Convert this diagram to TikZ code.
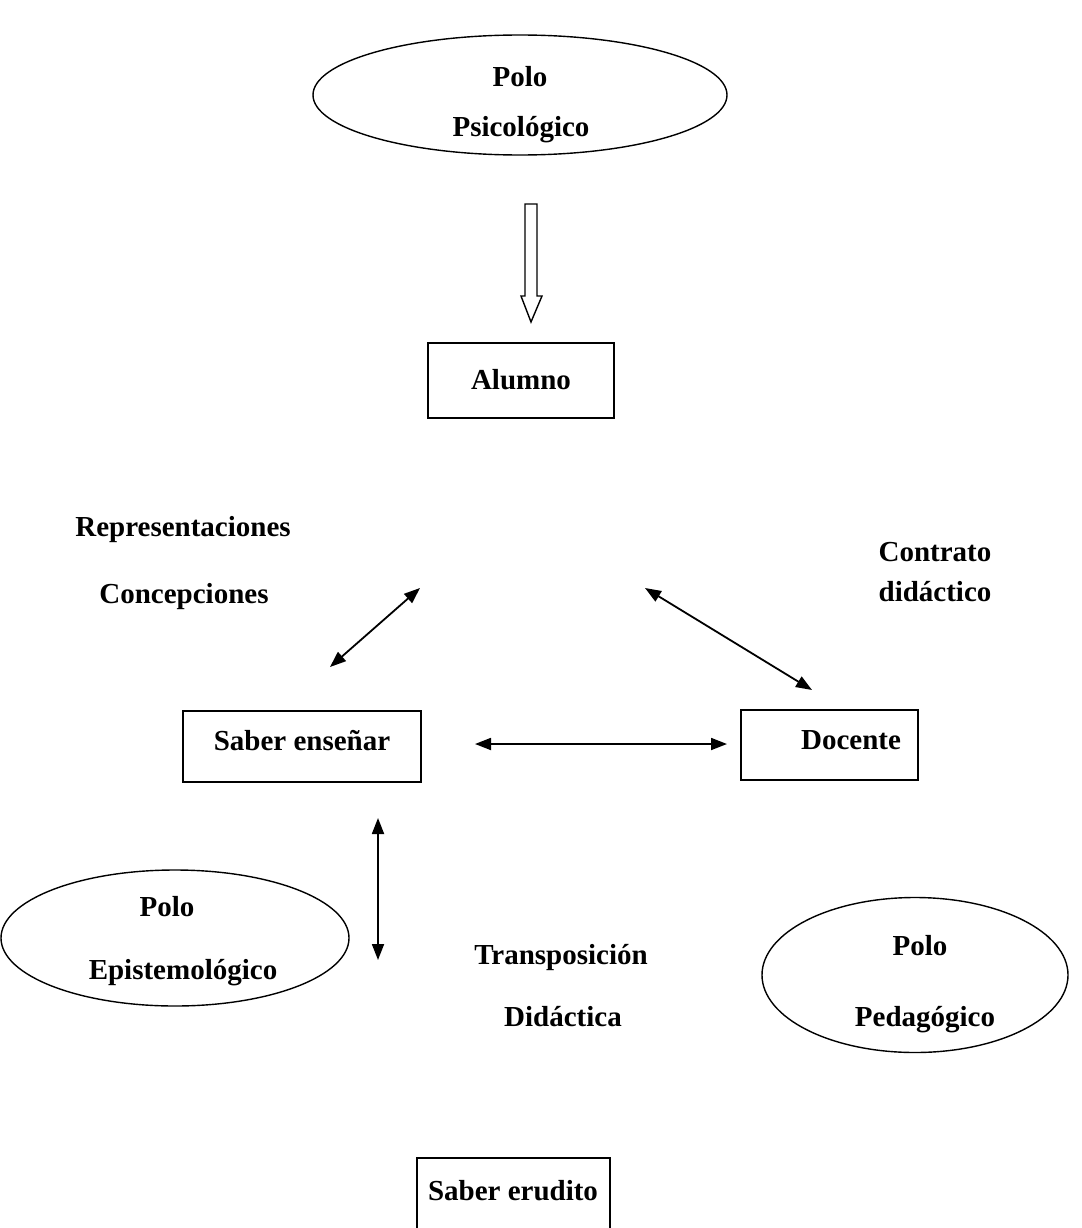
\documentclass[tikz,border=0pt]{standalone}
\usepackage{fontspec}
\setmainfont{Liberation Serif}
\usetikzlibrary{arrows.meta,shapes.geometric}
\begin{document}
\begin{tikzpicture}[x=1pt,y=-1pt,
  lbl/.style={font=\fontsize{29}{34}\selectfont\bfseries, inner sep=0pt},
  boxn/.style={draw, line width=1.6pt, rectangle, inner sep=0pt},
  ell/.style={draw, line width=1.4pt, ellipse, inner sep=0pt},
  dbl/.style={line width=1.8pt, {Triangle[length=16pt,width=12pt]}-{Triangle[length=16pt,width=12pt]}}
]
\useasboundingbox (0,0) rectangle (1081,1228);
\begin{scope}
\clip (0,0) rectangle (1081,1228);
% top ellipse
\node[ell, minimum width=414pt, minimum height=120pt] (epsi) at (520,95) {};
\node[lbl] (tpolo1) at (520,77) {Polo};
\node[lbl] (tpsi) at (521,130) {Psicológico};
% hollow arrow
\draw[line width=1.4pt, line join=miter] (525,204) -- (537,204) -- (537,296) -- (542,296) -- (531,322) -- (521,296) -- (525,296) -- cycle;
% Alumno
\node[boxn, minimum width=186pt, minimum height=75pt] (alumno) at (521,380.5) {};
\node[lbl] (talumno) at (521,380) {Alumno};
% labels
\node[lbl] (trep) at (183,530) {Representaciones};
\node[lbl] (tcon) at (184,597) {Concepciones};
\node[lbl] (tcontrato) at (935,552) {Contrato};
\node[lbl] (tdid) at (935,592) {didáctico};
% Saber ensenar
\node[boxn, minimum width=238pt, minimum height=71pt] (saber) at (302,746.5) {};
\node[lbl] (tsaber) at (302,741) {Saber enseñar};
% Docente
\node[boxn, minimum width=177pt, minimum height=70pt] (docente) at (829.5,745) {};
\node[lbl] (tdoc) at (851,740) {Docente};
% arrows
\coordinate (a1) at (420,588);
\coordinate (a2) at (330,667);
\coordinate (b1) at (645,588);
\coordinate (b2) at (812,690);
\coordinate (c1) at (475,744);
\coordinate (c2) at (727,744);
\coordinate (d1) at (378,818);
\coordinate (d2) at (378,960);
\draw[dbl] (a1) -- (a2);
\draw[dbl] (b1) -- (b2);
\draw[dbl] (c1) -- (c2);
\draw[dbl] (d1) -- (d2);
% bottom left ellipse
\node[ell, minimum width=348pt, minimum height=136pt] (eepi) at (175,938) {};
\node[lbl] (tpolo2) at (167,907) {Polo};
\node[lbl] (tepi) at (183,973) {Epistemológico};
% transposicion
\node[lbl] (ttrans) at (561,957) {Transposición};
\node[lbl] (tdida) at (563,1017) {Didáctica};
% right ellipse
\node[ell, minimum width=306pt, minimum height=155pt] (eped) at (915,975) {};
\node[lbl] (tpolo3) at (920,946) {Polo};
\node[lbl] (tped) at (925,1020) {Pedagógico};
% Saber erudito
\node[boxn, minimum width=193pt, minimum height=84pt] (erudito) at (513.5,1200) {};
\node[lbl] (terud) at (513,1191) {Saber erudito};
\end{scope}
\end{tikzpicture}
\end{document}
